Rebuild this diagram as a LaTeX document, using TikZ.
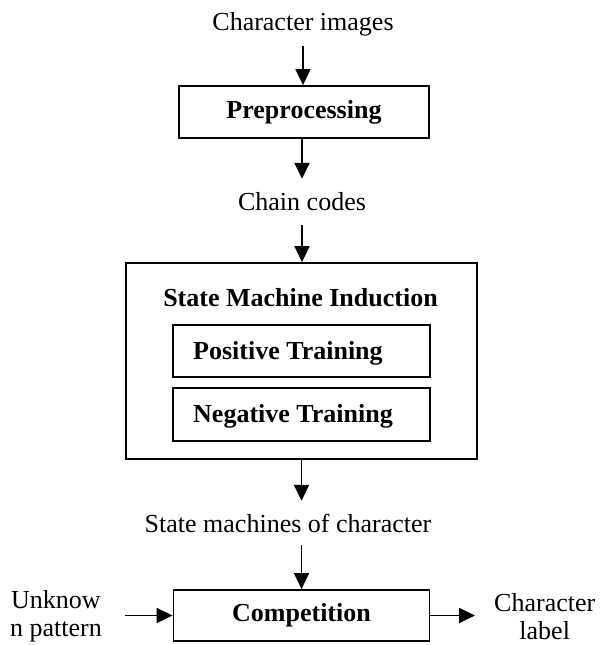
\documentclass[tikz,border=0pt]{standalone}
\usepackage{fontspec}
\setmainfont{Liberation Serif}
\usetikzlibrary{arrows.meta}

\tikzset{
  base/.style={font=\fontsize{26}{28}\selectfont, inner sep=0pt},
  lbl/.style={base, align=center},
  bold/.style={base, font=\fontsize{26}{28}\selectfont\bfseries},
  frame/.style={draw, line width=1.8pt, inner sep=0pt},
  box/.style={frame, font=\fontsize{26}{28}\selectfont\bfseries},
  flow/.style={line width=1.8pt, -{Triangle[length=16pt,width=15pt]}},
}

\begin{document}
\begin{tikzpicture}[x=1pt, y=-1pt]
  \useasboundingbox (0,0) rectangle (605,645);

  % input and preprocessing
  \node[lbl, minimum height=44pt] (img) at (303,24) {Character images};
  \node[box, minimum width=250pt, minimum height=52pt] (pre) at (304,112) {Preprocessing};
  \node[lbl, minimum height=46pt] (cc) at (302,202) {Chain codes};

  % induction block with its two training stages
  \node[frame, minimum width=351pt, minimum height=196pt] (smi) at (301.5,361) {};
  \node[bold] (smit) at (300.5,298) {State Machine Induction};
  \node[frame, minimum width=257pt, minimum height=52pt] (pos) at (301.5,351) {};
  \node[bold, anchor=west] at (193,353) {Positive Training};
  \node[frame, minimum width=257pt, minimum height=53pt] (neg) at (301.5,414.5) {};
  \node[bold, anchor=west] at (193,416.5) {Negative Training};

  \node[lbl, minimum height=44pt] (smc) at (288,523) {State machines of character};

  % recognition
  \node[box, minimum width=256pt, minimum height=51pt] (comp) at (301.5,615.5) {Competition};
  \node[lbl, anchor=east] (unk) at (102,616.5) {Unknow\\n pattern};
  \node[lbl, anchor=west] (out) at (494,616.5) {Character\\label};

  % connectors
  \draw[flow] (img.south) -- (pre.north -| img.south);
  \draw[flow] (pre.south -| cc.north) -- (cc.north);
  \draw[flow] (cc.south) -- (smi.north -| cc.south);
  \draw[flow] (smi.south) -- (smi.south |- smc.north);
  \draw[flow] (smi.south |- smc.south) -- (comp.north);
  \draw[flow] ([xshift=23pt]unk.east |- comp.west) -- (comp.west);
  \draw[flow] (comp.east) -- ([xshift=-19pt]out.west |- comp.east);
\end{tikzpicture}
\end{document}
